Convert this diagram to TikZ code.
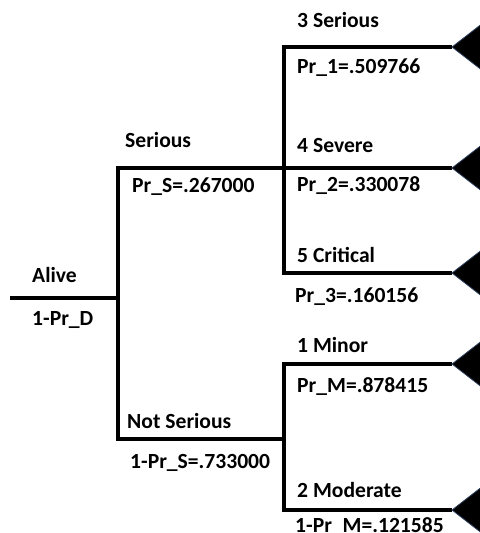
\documentclass[tikz,border=0pt]{standalone}
\usepackage{fontspec}
\setmainfont{Carlito}
\begin{document}
\begin{tikzpicture}[x=1bp,y=-1bp,
  branch/.style={line width=3.5bp, line join=miter, line cap=butt},
  lbl/.style={anchor=base west, inner sep=0pt, font=\fontsize{21.6bp}{25bp}\selectfont\bfseries},
  endtri/.style={fill=black, draw={rgb,255:red,45;green,65;blue,95}, line width=0.8bp}]
\useasboundingbox (0,0) rectangle (480,533);
\clip (0,0) rectangle (480,533);
% coordinates
\coordinate (a0) at (10,298);
\coordinate (a1) at (118,298);
\coordinate (j0t) at (118,168);
\coordinate (j0b) at (118,439);
\coordinate (j1t) at (284,47);
\coordinate (j1b) at (284,273);
\coordinate (j2m) at (284,439);
\coordinate (j2t) at (284,364);
\coordinate (j2b) at (284,510);
\coordinate (t3) at (452,47);
\coordinate (t4) at (452,168);
\coordinate (t5) at (452,273);
\coordinate (t1) at (452,364);
\coordinate (t2) at (452,510);
% branches
\draw[branch] (a0) -- (a1);
\draw[branch] (t4) -- (j0t) -- (j0b) -- (j2m);
\draw[branch] (t3) -- (j1t) -- (j1b) -- (t5);
\draw[branch] (t1) -- (j2t) -- (j2b) -- (t2);
% end triangles
\foreach \t in {t3,t4,t5,t1,t2}{
  \fill[endtri] (\t) -- ++(40,-31) -- ++(0,62) -- cycle;
}
% labels
\node[lbl] (alive) at (32,282) {Alive};
\node[lbl] (pd) at (32,325) {1-Pr\_D};
\node[lbl] (ser) at (125,148) {Serious};
\node[lbl] (prs) at (132,193) {Pr\_S=.267000};
\node[lbl] (nser) at (127,428) {Not Serious};
\node[lbl] (prns) at (130,468) {1-Pr\_S=.733000};
\node[lbl] (s3) at (297,28) {3 Serious};
\node[lbl] (p1) at (297,74) {Pr\_1=.509766};
\node[lbl] (s4) at (297,153) {4 Severe};
\node[lbl] (p2) at (297,192) {Pr\_2=.330078};
\node[lbl] (s5) at (297,262) {5 Critical};
\node[lbl] (p3) at (295,302) {Pr\_3=.160156};
\node[lbl] (m1) at (297,352) {1 Minor};
\node[lbl] (pm) at (297,392) {Pr\_M=.878415};
\node[lbl] (m2) at (297,497) {2 Moderate};
\node[lbl] (pm2) at (295,532) {1-Pr\_M=.121585};
\end{tikzpicture}
\end{document}
